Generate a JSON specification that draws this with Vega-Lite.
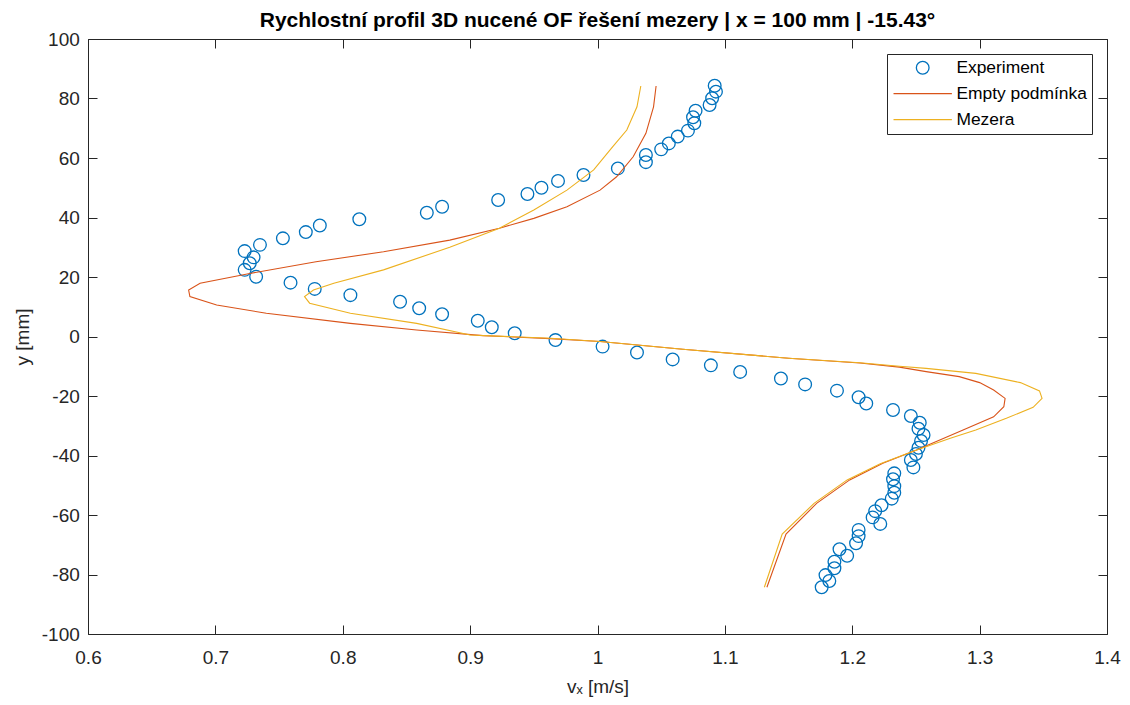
{
  "$schema": "https://vega.github.io/schema/vega-lite/v6.json",
  "width": 1019,
  "height": 595,
  "autosize": {"type": "none"},
  "padding": {"left": 88, "top": 39, "right": 23, "bottom": 71},
  "background": "white",
  "config": {
    "font": "Liberation Sans",
    "view": {"stroke": null},
    "locale": {"number": {"decimal": ".", "thousands": ",", "grouping": [3], "currency": ["$", ""], "minus": "-"}},
    "axis": {
      "grid": false,
      "domainColor": "#262626",
      "domainWidth": 1,
      "tickColor": "#262626",
      "tickSize": -9,
      "labelColor": "#262626",
      "labelFont": "Liberation Sans",
      "labelFontSize": 19,
      "labelFlush": false,
      "labelOverlap": false,
      "titleFont": "Liberation Sans",
      "titleFontSize": 19,
      "titleFontWeight": "normal",
      "titleColor": "#262626"
    }
  },
  "title": {
    "text": "Rychlostní profil 3D nucené OF řešení mezery | x = 100 mm | -15.43°",
    "font": "Liberation Sans",
    "fontSize": 21,
    "fontWeight": "bold",
    "color": "#000000",
    "anchor": "middle",
    "frame": "group",
    "baseline": "alphabetic",
    "offset": 9,
    "dy": 27
  },
  "layer": [
    {
      "data": {
        "values": [
          {"s": "Experiment", "y": 84.3, "v": 1.092},
          {"s": "Experiment", "y": 82.3, "v": 1.093},
          {"s": "Experiment", "y": 80.1, "v": 1.090},
          {"s": "Experiment", "y": 77.8, "v": 1.088},
          {"s": "Experiment", "y": 75.9, "v": 1.077},
          {"s": "Experiment", "y": 73.7, "v": 1.075},
          {"s": "Experiment", "y": 71.7, "v": 1.076},
          {"s": "Experiment", "y": 69.2, "v": 1.071},
          {"s": "Experiment", "y": 67.2, "v": 1.063},
          {"s": "Experiment", "y": 64.9, "v": 1.056},
          {"s": "Experiment", "y": 62.9, "v": 1.050},
          {"s": "Experiment", "y": 61.0, "v": 1.038},
          {"s": "Experiment", "y": 58.6, "v": 1.038},
          {"s": "Experiment", "y": 56.5, "v": 1.016},
          {"s": "Experiment", "y": 54.3, "v": 0.989},
          {"s": "Experiment", "y": 52.3, "v": 0.969},
          {"s": "Experiment", "y": 50.0, "v": 0.956},
          {"s": "Experiment", "y": 47.9, "v": 0.945},
          {"s": "Experiment", "y": 45.9, "v": 0.922},
          {"s": "Experiment", "y": 43.6, "v": 0.878},
          {"s": "Experiment", "y": 41.6, "v": 0.866},
          {"s": "Experiment", "y": 39.4, "v": 0.813},
          {"s": "Experiment", "y": 37.3, "v": 0.782},
          {"s": "Experiment", "y": 35.1, "v": 0.771},
          {"s": "Experiment", "y": 33.0, "v": 0.753},
          {"s": "Experiment", "y": 30.8, "v": 0.735},
          {"s": "Experiment", "y": 28.7, "v": 0.723},
          {"s": "Experiment", "y": 26.6, "v": 0.730},
          {"s": "Experiment", "y": 24.6, "v": 0.727},
          {"s": "Experiment", "y": 22.4, "v": 0.723},
          {"s": "Experiment", "y": 20.1, "v": 0.732},
          {"s": "Experiment", "y": 18.1, "v": 0.759},
          {"s": "Experiment", "y": 16.0, "v": 0.778},
          {"s": "Experiment", "y": 13.9, "v": 0.806},
          {"s": "Experiment", "y": 11.7, "v": 0.845},
          {"s": "Experiment", "y": 9.5, "v": 0.860},
          {"s": "Experiment", "y": 7.5, "v": 0.878},
          {"s": "Experiment", "y": 5.3, "v": 0.906},
          {"s": "Experiment", "y": 3.1, "v": 0.917},
          {"s": "Experiment", "y": 1.1, "v": 0.935},
          {"s": "Experiment", "y": -1.2, "v": 0.967},
          {"s": "Experiment", "y": -3.4, "v": 1.004},
          {"s": "Experiment", "y": -5.4, "v": 1.031},
          {"s": "Experiment", "y": -7.7, "v": 1.059},
          {"s": "Experiment", "y": -9.7, "v": 1.089},
          {"s": "Experiment", "y": -11.9, "v": 1.112},
          {"s": "Experiment", "y": -14.1, "v": 1.144},
          {"s": "Experiment", "y": -16.1, "v": 1.163},
          {"s": "Experiment", "y": -18.2, "v": 1.188},
          {"s": "Experiment", "y": -20.4, "v": 1.205},
          {"s": "Experiment", "y": -22.5, "v": 1.211},
          {"s": "Experiment", "y": -24.7, "v": 1.232},
          {"s": "Experiment", "y": -26.7, "v": 1.246},
          {"s": "Experiment", "y": -29.0, "v": 1.253},
          {"s": "Experiment", "y": -31.0, "v": 1.252},
          {"s": "Experiment", "y": -33.1, "v": 1.256},
          {"s": "Experiment", "y": -35.1, "v": 1.254},
          {"s": "Experiment", "y": -37.4, "v": 1.252},
          {"s": "Experiment", "y": -39.5, "v": 1.250},
          {"s": "Experiment", "y": -41.5, "v": 1.246},
          {"s": "Experiment", "y": -44.0, "v": 1.248},
          {"s": "Experiment", "y": -46.0, "v": 1.233},
          {"s": "Experiment", "y": -48.0, "v": 1.232},
          {"s": "Experiment", "y": -50.3, "v": 1.233},
          {"s": "Experiment", "y": -52.5, "v": 1.233},
          {"s": "Experiment", "y": -54.5, "v": 1.231},
          {"s": "Experiment", "y": -56.7, "v": 1.223},
          {"s": "Experiment", "y": -58.7, "v": 1.218},
          {"s": "Experiment", "y": -60.8, "v": 1.216},
          {"s": "Experiment", "y": -63.0, "v": 1.222},
          {"s": "Experiment", "y": -65.0, "v": 1.205},
          {"s": "Experiment", "y": -67.1, "v": 1.205},
          {"s": "Experiment", "y": -69.5, "v": 1.203},
          {"s": "Experiment", "y": -71.5, "v": 1.190},
          {"s": "Experiment", "y": -73.7, "v": 1.196},
          {"s": "Experiment", "y": -75.7, "v": 1.186},
          {"s": "Experiment", "y": -77.9, "v": 1.186},
          {"s": "Experiment", "y": -80.2, "v": 1.179},
          {"s": "Experiment", "y": -82.2, "v": 1.182},
          {"s": "Experiment", "y": -84.3, "v": 1.176}
        ]
      },
      "mark": {"type": "point", "filled": false, "size": 161, "strokeWidth": 1.3, "opacity": 1},
      "encoding": {
        "x": {
          "field": "v", "type": "quantitative",
          "scale": {"domain": [0.6, 1.4], "nice": false, "zero": false},
          "axis": {
            "orient": "bottom",
            "values": [0.6, 0.7, 0.8, 0.9, 1, 1.1, 1.2, 1.3, 1.4],
            "format": ".1~f",
            "labelPadding": 23.6,
            "title": "vₓ [m/s]",
            "titleY": 58,
            "titleBaseline": "alphabetic"
          }
        },
        "y": {
          "field": "y", "type": "quantitative",
          "scale": {"domain": [-100, 100], "nice": false, "zero": false},
          "axis": {
            "orient": "left",
            "values": [-100, -80, -60, -40, -20, 0, 20, 40, 60, 80, 100],
            "format": "d",
            "labelPadding": 17.7,
            "title": "y [mm]",
            "titleX": -60,
            "titleY": 297.5,
            "titleAngle": 270,
            "titleBaseline": "alphabetic"
          }
        },
        "color": {
          "field": "s", "type": "nominal",
          "scale": {"domain": ["Experiment", "Empty podmínka", "Mezera"], "range": ["#0072BD", "#D95319", "#EDB120"]},
          "legend": {
            "title": null, "orient": "none", "legendX": 799, "legendY": 15, "direction": "vertical",
            "padding": 5, "strokeColor": "#262626", "fillColor": "white", "cornerRadius": 0,
            "labelFont": "Liberation Sans", "labelFontSize": 17.4, "labelColor": "#000000",
            "symbolSize": 161, "symbolStrokeWidth": 1.3, "symbolOpacity": 1,
            "symbolOffset": 22, "labelOffset": 25, "rowPadding": 7
          }
        },
        "shape": {
          "field": "s", "type": "nominal",
          "scale": {"domain": ["Experiment", "Empty podmínka", "Mezera"], "range": ["circle", "M-4.6,0H4.6", "M-4.6,0H4.6"]},
          "legend": {
            "title": null, "orient": "none", "legendX": 799, "legendY": 15, "direction": "vertical",
            "padding": 5, "strokeColor": "#262626", "fillColor": "white", "cornerRadius": 0,
            "labelFont": "Liberation Sans", "labelFontSize": 17.4, "labelColor": "#000000",
            "symbolSize": 161, "symbolStrokeWidth": 1.3, "symbolOpacity": 1,
            "symbolOffset": 22, "labelOffset": 25, "rowPadding": 7
          }
        }
      }
    },
    {
      "data": {
        "values": [
          {"s": "Empty podmínka", "y": 84.2, "v": 1.046},
          {"s": "Empty podmínka", "y": 77.2, "v": 1.044},
          {"s": "Empty podmínka", "y": 68.3, "v": 1.038},
          {"s": "Empty podmínka", "y": 60.4, "v": 1.028},
          {"s": "Empty podmínka", "y": 53.7, "v": 1.015},
          {"s": "Empty podmínka", "y": 49.2, "v": 1.002},
          {"s": "Empty podmínka", "y": 43.6, "v": 0.976},
          {"s": "Empty podmínka", "y": 39.7, "v": 0.950},
          {"s": "Empty podmínka", "y": 36.4, "v": 0.923},
          {"s": "Empty podmínka", "y": 32.4, "v": 0.884},
          {"s": "Empty podmínka", "y": 28.5, "v": 0.832},
          {"s": "Empty podmínka", "y": 25.1, "v": 0.779},
          {"s": "Empty podmínka", "y": 21.2, "v": 0.727},
          {"s": "Empty podmínka", "y": 17.9, "v": 0.688},
          {"s": "Empty podmínka", "y": 15.6, "v": 0.679},
          {"s": "Empty podmínka", "y": 13.4, "v": 0.680},
          {"s": "Empty podmínka", "y": 10.6, "v": 0.701},
          {"s": "Empty podmínka", "y": 7.8, "v": 0.740},
          {"s": "Empty podmínka", "y": 4.4, "v": 0.806},
          {"s": "Empty podmínka", "y": 2.2, "v": 0.858},
          {"s": "Empty podmínka", "y": 0.3, "v": 0.910},
          {"s": "Empty podmínka", "y": -0.7, "v": 0.963},
          {"s": "Empty podmínka", "y": -1.7, "v": 1.002},
          {"s": "Empty podmínka", "y": -4.3, "v": 1.067},
          {"s": "Empty podmínka", "y": -7.3, "v": 1.150},
          {"s": "Empty podmínka", "y": -8.9, "v": 1.206},
          {"s": "Empty podmínka", "y": -10.3, "v": 1.237},
          {"s": "Empty podmínka", "y": -11.8, "v": 1.258},
          {"s": "Empty podmínka", "y": -13.5, "v": 1.284},
          {"s": "Empty podmínka", "y": -15.5, "v": 1.300},
          {"s": "Empty podmínka", "y": -18.0, "v": 1.311},
          {"s": "Empty podmínka", "y": -20.8, "v": 1.320},
          {"s": "Empty podmínka", "y": -23.6, "v": 1.319},
          {"s": "Empty podmínka", "y": -27.0, "v": 1.311},
          {"s": "Empty podmínka", "y": -31.4, "v": 1.287},
          {"s": "Empty podmínka", "y": -38.2, "v": 1.250},
          {"s": "Empty podmínka", "y": -42.6, "v": 1.224},
          {"s": "Empty podmínka", "y": -48.2, "v": 1.198},
          {"s": "Empty podmínka", "y": -56.1, "v": 1.172},
          {"s": "Empty podmínka", "y": -66.4, "v": 1.148},
          {"s": "Empty podmínka", "y": -84.3, "v": 1.133},
          {"s": "Mezera", "y": 84.2, "v": 1.034},
          {"s": "Mezera", "y": 77.2, "v": 1.031},
          {"s": "Mezera", "y": 69.4, "v": 1.023},
          {"s": "Mezera", "y": 63.8, "v": 1.012},
          {"s": "Mezera", "y": 56.0, "v": 0.997},
          {"s": "Mezera", "y": 49.2, "v": 0.976},
          {"s": "Mezera", "y": 42.5, "v": 0.950},
          {"s": "Mezera", "y": 36.4, "v": 0.923},
          {"s": "Mezera", "y": 30.0, "v": 0.884},
          {"s": "Mezera", "y": 22.4, "v": 0.832},
          {"s": "Mezera", "y": 17.9, "v": 0.793},
          {"s": "Mezera", "y": 15.6, "v": 0.777},
          {"s": "Mezera", "y": 13.4, "v": 0.770},
          {"s": "Mezera", "y": 11.2, "v": 0.774},
          {"s": "Mezera", "y": 7.8, "v": 0.806},
          {"s": "Mezera", "y": 4.4, "v": 0.858},
          {"s": "Mezera", "y": 0.5, "v": 0.900},
          {"s": "Mezera", "y": -0.6, "v": 0.963},
          {"s": "Mezera", "y": -1.7, "v": 1.002},
          {"s": "Mezera", "y": -4.3, "v": 1.067},
          {"s": "Mezera", "y": -7.3, "v": 1.150},
          {"s": "Mezera", "y": -8.8, "v": 1.206},
          {"s": "Mezera", "y": -10.0, "v": 1.237},
          {"s": "Mezera", "y": -10.7, "v": 1.258},
          {"s": "Mezera", "y": -12.4, "v": 1.297},
          {"s": "Mezera", "y": -15.5, "v": 1.332},
          {"s": "Mezera", "y": -18.3, "v": 1.347},
          {"s": "Mezera", "y": -20.8, "v": 1.349},
          {"s": "Mezera", "y": -23.8, "v": 1.342},
          {"s": "Mezera", "y": -27.5, "v": 1.321},
          {"s": "Mezera", "y": -31.4, "v": 1.297},
          {"s": "Mezera", "y": -34.2, "v": 1.277},
          {"s": "Mezera", "y": -38.2, "v": 1.250},
          {"s": "Mezera", "y": -42.8, "v": 1.222},
          {"s": "Mezera", "y": -48.2, "v": 1.196},
          {"s": "Mezera", "y": -56.1, "v": 1.170},
          {"s": "Mezera", "y": -66.4, "v": 1.145},
          {"s": "Mezera", "y": -84.3, "v": 1.131}
        ]
      },
      "mark": {"type": "line", "strokeWidth": 1.1},
      "encoding": {
        "x": {
          "field": "v", "type": "quantitative",
          "axis": {
            "orient": "top",
            "values": [0.6, 0.7, 0.8, 0.9, 1, 1.1, 1.2, 1.3, 1.4],
            "labels": false,
            "title": null
          }
        },
        "y": {
          "field": "y", "type": "quantitative",
          "axis": {
            "orient": "right",
            "values": [-100, -80, -60, -40, -20, 0, 20, 40, 60, 80, 100],
            "labels": false,
            "title": null
          }
        },
        "color": {"field": "s", "type": "nominal", "legend": null},
        "order": {"field": "y", "type": "quantitative"}
      }
    }
  ],
  "resolve": {"axis": {"x": "independent", "y": "independent"}}
}
